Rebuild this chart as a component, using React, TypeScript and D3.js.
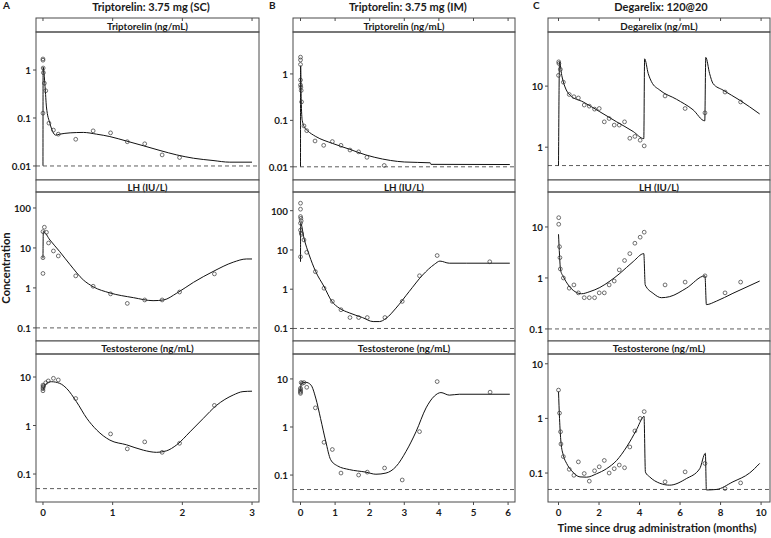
import React from 'react';
import * as d3 from 'd3';

type P = [number, number];

// ---------------- text content ----------------
const columnLetters = ['A', 'B', 'C'];
const columnTitles = ['Triptorelin: 3.75 mg (SC)', 'Triptorelin: 3.75 mg (IM)', 'Degarelix: 120@20'];
const stripLabels = [
  ['Triptorelin (ng/mL)', 'LH (IU/L)', 'Testosterone (ng/mL)'],
  ['Triptorelin (ng/mL)', 'LH (IU/L)', 'Testosterone (ng/mL)'],
  ['Degarelix (ng/mL)', 'LH (IU/L)', 'Testosterone (ng/mL)'],
];
const yAxisTitle = 'Concentration';
const xAxisTitle = 'Time since drug administration (months)';

// ---------------- axes ----------------
const xTicks = [[0, 1, 2, 3], [0, 1, 2, 3, 4, 5, 6], [0, 2, 4, 6, 8, 10]];
const xDomains: P[] = [[-0.1, 3.1], [-0.217, 6.2], [-0.519, 10.44]];
const yTicks = [
  [[0.01, 0.1, 1], [0.1, 1, 10, 100], [0.1, 1, 10]],
  [[0.01, 0.1, 1], [0.1, 1, 10, 100], [0.1, 1, 10]],
  [[1, 10], [0.1, 1, 10], [0.1, 1, 10]],
];
const yDomains: P[][] = [
  [[0.0051, 6.2], [0.047, 251], [0.0265, 29.8]],
  [[0.0052, 8.0], [0.048, 299], [0.0275, 33]],
  [[0.29, 77], [0.058, 48.5], [0.0295, 15.1]],
];
const lloq = [[0.01, 0.1, 0.05], [0.01, 0.1, 0.05], [0.5, 0.1, 0.05]];

// ---------------- data: A (Triptorelin SC) ----------------
const aTripObs: P[] = [[0, 1.7], [0, 1.6], [0.003, 1.1], [0.006, 0.88], [0.02, 0.53], [0.04, 0.37], [0, 0.126], [0.086, 0.078], [0.15, 0.056], [0.22, 0.046], [0.47, 0.036], [0.72, 0.054], [0.97, 0.049], [1.21, 0.032], [1.46, 0.029], [1.71, 0.017], [1.96, 0.015]];
const aTripModel: P[] = [[0, 0.0101], [0.002, 1.15], [0.03, 0.45], [0.05, 0.17], [0.1, 0.077], [0.14, 0.052], [0.18, 0.044], [0.24, 0.046], [0.39, 0.049], [0.58, 0.05], [0.77, 0.046], [0.96, 0.041], [1.2, 0.033], [1.44, 0.0264], [1.68, 0.021], [1.92, 0.017], [2.16, 0.0145], [2.44, 0.013], [2.68, 0.012], [3.0, 0.012]];
const aLhObs: P[] = [[0.02, 33], [0, 25.6], [0.05, 24.6], [0, 5.7], [0, 2.3], [0.08, 13.3], [0.15, 8.4], [0.22, 6.3], [0.47, 2.0], [0.72, 1.1], [0.97, 0.71], [1.21, 0.41], [1.46, 0.5], [1.71, 0.5], [1.96, 0.79], [2.46, 2.24]];
const aLhModel: P[] = [[0, 5.5], [0.005, 25.6], [0.1, 15.8], [0.24, 8.1], [0.39, 3.8], [0.58, 1.58], [0.72, 1.07], [0.96, 0.75], [1.3, 0.57], [1.58, 0.48], [1.73, 0.5], [1.92, 0.74], [2.16, 1.38], [2.44, 2.57], [2.73, 4.4], [2.92, 5.3], [3.0, 5.3]];
const aTestoObs: P[] = [[0, 6.8], [0, 6.2], [0, 5.7], [0, 5.2], [0.01, 6.5], [0.04, 7.6], [0.076, 8.3], [0.15, 9.4], [0.22, 8.7], [0.47, 3.6], [0.97, 0.67], [1.21, 0.33], [1.46, 0.46], [1.71, 0.28], [1.96, 0.43], [2.46, 2.6]];
const aTestoModel: P[] = [[0, 5.4], [0.05, 7.4], [0.12, 8.0], [0.24, 7.4], [0.34, 5.8], [0.48, 3.1], [0.63, 1.4], [0.77, 0.81], [0.96, 0.5], [1.2, 0.4], [1.44, 0.31], [1.63, 0.28], [1.77, 0.3], [1.92, 0.4], [2.11, 0.74], [2.3, 1.4], [2.49, 2.6], [2.73, 4.25], [2.87, 5.0], [3.0, 5.1]];

// ---------------- data: B (Triptorelin IM) ----------------
const bTripObs: P[] = [[0, 2.3], [0, 2.0], [0, 1.6], [0, 0.74], [0, 0.58], [0.01, 0.52], [0.02, 0.44], [0.03, 0.25], [0.1, 0.076], [0.18, 0.06], [0.42, 0.036], [0.67, 0.029], [0.92, 0.035], [1.17, 0.029], [1.43, 0.023], [1.68, 0.021], [1.92, 0.016], [2.42, 0.0107]];
const bTripModel: P[] = [[0, 0.0101], [0.003, 1.5], [0.02, 0.276], [0.05, 0.1], [0.13, 0.068], [0.2, 0.06], [0.44, 0.045], [0.92, 0.032], [1.41, 0.024], [1.89, 0.018], [2.37, 0.0147], [2.6, 0.0137], [3.0, 0.0127], [3.75, 0.0122], [3.77, 0.0113], [6.05, 0.0112]];
const bLhObs: P[] = [[0, 155], [0, 109], [0, 71], [0.01, 64], [0.02, 55], [0, 48], [0, 32], [0, 6.7], [0.02, 27], [0.03, 25], [0.1, 18], [0.18, 8.7], [0.43, 2.8], [0.68, 1.06], [0.92, 0.49], [1.17, 0.3], [1.43, 0.19], [1.68, 0.19], [1.93, 0.19], [2.44, 0.19], [2.94, 0.49], [3.44, 2.2], [3.95, 7.2], [5.47, 5.0]];
const bLhModel: P[] = [[0, 5.0], [0.005, 48], [0.1, 20], [0.25, 7.5], [0.44, 2.8], [0.68, 1.17], [0.9, 0.5], [1.12, 0.33], [1.41, 0.25], [1.79, 0.19], [2.1, 0.15], [2.28, 0.15], [2.47, 0.18], [2.76, 0.33], [3.14, 0.87], [3.53, 2.3], [3.87, 4.3], [4.03, 5.2], [4.3, 4.6], [4.79, 4.6], [6.05, 4.6]];
const bTestoObs: P[] = [[0, 6.4], [0, 6.0], [0, 5.6], [0, 5.3], [0, 5.0], [0.02, 8.4], [0.05, 8.1], [0.1, 8.4], [0.18, 6.7], [0.43, 2.5], [0.68, 0.48], [0.92, 0.34], [1.17, 0.11], [1.68, 0.1], [1.93, 0.115], [2.43, 0.14], [2.94, 0.079], [3.44, 0.8], [3.95, 8.8], [5.48, 5.3]];
const bTestoModel: P[] = [[0, 5.6], [0.02, 8.1], [0.15, 8.5], [0.3, 7.5], [0.44, 4.0], [0.58, 1.5], [0.73, 0.5], [0.87, 0.21], [1.07, 0.155], [1.41, 0.13], [1.89, 0.115], [2.18, 0.104], [2.47, 0.11], [2.76, 0.15], [3.05, 0.31], [3.34, 0.8], [3.63, 2.5], [3.87, 4.4], [4.06, 5.2], [4.3, 4.6], [4.59, 4.8], [6.05, 4.8]];

// ---------------- data: C (Degarelix 120@20) ----------------
const cDegObs: P[] = [[0.01, 25], [0.02, 23.5], [0, 15], [0.09, 18.8], [0.24, 11.6], [0.53, 7.3], [0.76, 6.7], [0.98, 6.4], [1.27, 4.9], [1.52, 4.7], [1.78, 4.2], [2.01, 4.3], [2.26, 2.6], [2.5, 2.95], [2.75, 2.3], [3.0, 2.3], [3.26, 2.6], [3.52, 1.4], [3.77, 1.5], [4.03, 1.3], [4.23, 1.05], [5.26, 6.9], [6.25, 4.3], [7.23, 3.65], [8.22, 8.0], [8.99, 5.5]];
const cDegModel: P[] = [[0, 0.5], [0.05, 25], [0.16, 15], [0.32, 9.7], [0.57, 7.1], [1.22, 5.5], [2.04, 3.8], [2.87, 2.6], [3.69, 1.8], [4.21, 1.38], [4.25, 28], [4.43, 16], [4.59, 11.8], [5.0, 8.6], [5.82, 6.1], [6.64, 4.1], [7.22, 2.7], [7.27, 29.5], [7.46, 16], [7.63, 11], [8.12, 8.6], [8.94, 5.9], [9.93, 3.5]];
const cLhObs: P[] = [[0.01, 15.2], [0.01, 11.3], [0.05, 4.1], [0.07, 2.5], [0.09, 1.5], [0.24, 1.0], [0.53, 0.63], [0.76, 0.73], [0.98, 0.51], [1.27, 0.41], [1.52, 0.41], [1.78, 0.41], [2.01, 0.51], [2.26, 0.51], [2.5, 0.73], [2.75, 0.87], [3.0, 1.44], [3.26, 2.2], [3.52, 3.0], [3.77, 4.8], [4.03, 6.3], [4.23, 7.9], [5.26, 0.73], [6.25, 0.83], [7.23, 1.1], [8.22, 0.51], [8.99, 0.83]];
const cLhModel: P[] = [[0, 7.2], [0.05, 2.8], [0.1, 1.44], [0.24, 1.06], [0.48, 0.73], [0.81, 0.54], [1.14, 0.49], [1.55, 0.54], [2.04, 0.65], [2.54, 0.87], [3.03, 1.23], [3.69, 2.1], [4.21, 3.0], [4.28, 0.73], [4.67, 0.5], [5.08, 0.41], [5.49, 0.43], [6.31, 0.63], [7.23, 1.1], [7.3, 0.3], [7.79, 0.35], [8.61, 0.5], [9.93, 0.87]];
const cTestoObs: P[] = [[0, 3.3], [0.05, 1.25], [0.1, 0.57], [0.12, 0.34], [0.24, 0.2], [0.53, 0.117], [0.76, 0.091], [0.98, 0.16], [1.27, 0.098], [1.52, 0.071], [1.78, 0.11], [2.01, 0.13], [2.26, 0.17], [2.5, 0.1], [2.75, 0.12], [3.0, 0.14], [3.26, 0.125], [3.52, 0.3], [3.77, 0.59], [4.03, 1.0], [4.23, 1.33], [5.26, 0.069], [6.25, 0.105], [7.23, 0.15], [8.22, 0.052], [8.99, 0.066]];
const cTestoModel: P[] = [[0, 3.1], [0.05, 1.0], [0.12, 0.37], [0.24, 0.21], [0.4, 0.15], [0.65, 0.11], [1.06, 0.085], [1.39, 0.084], [1.88, 0.097], [2.37, 0.12], [2.87, 0.17], [3.36, 0.3], [3.85, 0.62], [4.18, 1.07], [4.22, 1.1], [4.29, 0.104], [4.5, 0.085], [5.0, 0.065], [5.49, 0.06], [6.31, 0.079], [6.97, 0.12], [7.25, 0.23], [7.3, 0.049], [7.79, 0.05], [8.61, 0.069], [9.43, 0.1], [9.93, 0.15]];

const observed = [
  [aTripObs, aLhObs, aTestoObs],
  [bTripObs, bLhObs, bTestoObs],
  [cDegObs, cLhObs, cTestoObs],
];
const modelled = [
  [aTripModel, aLhModel, aTestoModel],
  [bTripModel, bLhModel, bTestoModel],
  [cDegModel, cLhModel, cTestoModel],
];

// ---------------- layout ----------------
const W = 771;
const H = 538;
const colX: P[] = [[36, 259], [293, 515], [548, 770]];
const rowY = [[18, 32, 180], [180, 192, 341], [341, 354, 502]];
const FONT = 'Lato, "Open Sans", "DejaVu Sans", sans-serif';
const INK = '#1a1a1a';
const FRAME = '#4a4a4a';

function Panel({ c, r }: { c: number; r: number }) {
  const [x0, x1] = colX[c];
  const [top, sb, bottom] = rowY[r];
  const xs = d3.scaleLinear().domain(xDomains[c]).range([x0, x1]);
  const ys = d3.scaleLog().domain(yDomains[c][r]).range([bottom, sb]);
  const line = d3
    .line<P>()
    .x((d) => xs(d[0]))
    .y((d) => ys(d[1]))
    .curve(d3.curveMonotoneX);
  const clipId = `clip-${c}-${r}`;
  const ly = ys(lloq[c][r]);
  return (
    <g>
      <defs>
        <clipPath id={clipId}>
          <rect x={x0} y={sb} width={x1 - x0} height={bottom - sb} />
        </clipPath>
      </defs>
      <rect x={x0} y={top} width={x1 - x0} height={sb - top} fill="#fff" stroke={FRAME} strokeWidth={1} />
      <text
        x={(x0 + x1) / 2}
        y={(top + sb) / 2 + 0.5}
        textAnchor="middle"
        dominantBaseline="central"
        fontFamily={FONT}
        fontWeight={700}
        fontSize={9.8}
        fill={INK}
      >
        {stripLabels[c][r]}
      </text>
      <rect x={x0} y={sb} width={x1 - x0} height={bottom - sb} fill="none" stroke={FRAME} strokeWidth={1} />
      <line x1={x0} x2={x1} y1={ly} y2={ly} stroke="#333" strokeWidth={0.8} strokeDasharray="4,3" />
      <g clipPath={`url(#${clipId})`}>
        <path d={line(modelled[c][r]) || ''} fill="none" stroke="#111" strokeWidth={1} />
        {observed[c][r].map((d, i) => (
          <circle key={i} cx={xs(d[0])} cy={ys(d[1])} r={1.9} fill="none" stroke="#333" strokeWidth={0.7} />
        ))}
      </g>
      {yTicks[c][r].map((t) => (
        <g key={t}>
          <line x1={x0 - 3} x2={x0} y1={ys(t)} y2={ys(t)} stroke={FRAME} strokeWidth={1} />
          <text
            x={x0 - 5}
            y={ys(t)}
            textAnchor="end"
            dominantBaseline="central"
            fontFamily={FONT}
            fontWeight={700}
            fontSize={9.8}
            fill={INK}
          >
            {String(t)}
          </text>
        </g>
      ))}
      {r === 0 &&
        xTicks[c].map((t) => (
          <line key={t} x1={xs(t)} x2={xs(t)} y1={top} y2={top + 3} stroke={FRAME} strokeWidth={1} />
        ))}
      {r === 2 &&
        xTicks[c].map((t) => (
          <g key={t}>
            <line x1={xs(t)} x2={xs(t)} y1={bottom} y2={bottom + 3} stroke={FRAME} strokeWidth={1} />
            <text
              x={xs(t)}
              y={bottom + 10}
              textAnchor="middle"
              dominantBaseline="central"
              fontFamily={FONT}
              fontWeight={700}
              fontSize={9.8}
              fill={INK}
            >
              {t}
            </text>
          </g>
        ))}
    </g>
  );
}

export default function App() {
  const titleCenters = [151, 408, 661];
  const letterX = [3, 269, 533];
  return (
    <svg
      width={W}
      height={H}
      viewBox={`0 0 ${W} ${H}`}
      style={{ position: 'absolute', left: 0, top: 0, background: '#fff' }}
    >
      <rect x={0} y={0} width={W} height={H} fill="#fff" />
      {columnTitles.map((t, c) => (
        <g key={c}>
          <text x={letterX[c]} y={9} fontFamily={FONT} fontWeight={700} fontSize={10} fill={INK}>
            {columnLetters[c]}
          </text>
          <text x={titleCenters[c]} y={10.5} textAnchor="middle" fontFamily={FONT} fontWeight={700} fontSize={11} fill={INK}>
            {t}
          </text>
        </g>
      ))}
      {[0, 1, 2].map((c) => [0, 1, 2].map((r) => <Panel key={`${c}-${r}`} c={c} r={r} />))}
      <text
        transform="translate(10,268) rotate(-90)"
        textAnchor="middle"
        fontFamily={FONT}
        fontWeight={700}
        fontSize={11.2}
        fill={INK}
      >
        {yAxisTitle}
      </text>
      <text x={657} y={532} textAnchor="middle" fontFamily={FONT} fontWeight={700} fontSize={11.2} fill={INK}>
        {xAxisTitle}
      </text>
    </svg>
  );
}
